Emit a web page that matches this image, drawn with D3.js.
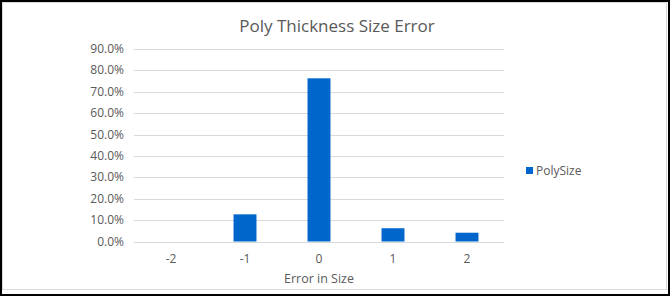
<!DOCTYPE html>
<html>
<head>
<meta charset="utf-8">
<script src="https://cdn.jsdelivr.net/npm/d3@7"></script>
<style>
  body { margin: 0; background: #fff; }
  svg text { font-family: "Open Sans", "Noto Sans", sans-serif; fill: #595959; }
</style>
</head>
<body>
<svg id="chart" width="670" height="296"></svg>
<script>
// data
let categories = ["-2", "-1", "0", "1", "2"];
let poly_size  = [0, 0.127, 0.763, 0.062, 0.041];
let y_ticks    = [0, 0.1, 0.2, 0.3, 0.4, 0.5, 0.6, 0.7, 0.8, 0.9];
let series_name = "PolySize";

let svg = d3.select("#chart");

let margin = {top: 49, left: 134, right: 166, bottom: 55},
    width  = 670 - margin.left - margin.right,
    height = 296 - margin.top - margin.bottom;

let x = d3.scaleBand().domain(categories).range([0, width]).paddingInner(0.69).paddingOuter(0.345),
    y = d3.scaleLinear().domain([0, 0.9]).range([height + 0.5, 0]);

// frames
svg.append("rect")
    .attr("x", 1).attr("y", 1).attr("width", 668).attr("height", 294)
    .attr("fill", "#fff").attr("stroke", "#000").attr("stroke-width", 2);
svg.append("rect")
    .attr("x", 2.5).attr("y", 2.5).attr("width", 664).attr("height", 287)
    .attr("fill", "none").attr("stroke", "#d9d9d9").attr("stroke-width", 1);

let g = svg.append("g").attr("transform", `translate(${margin.left}, ${margin.top})`);

// gridlines
g.selectAll("line.grid")
    .data(y_ticks).enter()
    .append("line")
    .attr("x1", 0).attr("x2", width)
    .attr("y1", (d) => Math.round(y(d)) + 0.5)
    .attr("y2", (d) => Math.round(y(d)) + 0.5)
    .attr("stroke", "#d9d9d9").attr("stroke-width", 1);

// y labels
g.selectAll("text.ylab")
    .data(y_ticks).enter()
    .append("text")
    .attr("x", -10)
    .attr("y", (d) => y(d) + 4)
    .attr("text-anchor", "end")
    .style("font-size", "12px")
    .text((d) => d3.format(".1%")(d));

// bars
g.selectAll("rect.bar")
    .data(poly_size).enter()
    .append("rect")
    .attr("x", (d, i) => x(categories[i]))
    .attr("y", (d) => y(d))
    .attr("width", x.bandwidth())
    .attr("height", (d) => y(0) - y(d))
    .attr("fill", "#0066cc");

// x labels
g.selectAll("text.xlab")
    .data(categories).enter()
    .append("text")
    .attr("x", (d) => x(d) + x.bandwidth() / 2)
    .attr("y", height + 22)
    .attr("text-anchor", "middle")
    .style("font-size", "12px")
    .text((d) => d);

// axis title
g.append("text")
    .attr("x", width / 2)
    .attr("y", height + 42)
    .attr("text-anchor", "middle")
    .style("font-size", "12.5px")
    .text("Error in Size");

// title
svg.append("text")
    .attr("x", 337)
    .attr("y", 32)
    .attr("text-anchor", "middle")
    .style("font-size", "17px")
    .text("Poly Thickness Size Error");

// legend
let legend = svg.append("g").attr("transform", "translate(526, 167)");
legend.append("rect").attr("width", 7).attr("height", 7).attr("fill", "#0066cc");
legend.append("text").attr("x", 10).attr("y", 7.5).style("font-size", "12px").text(series_name);
</script>
</body>
</html>
